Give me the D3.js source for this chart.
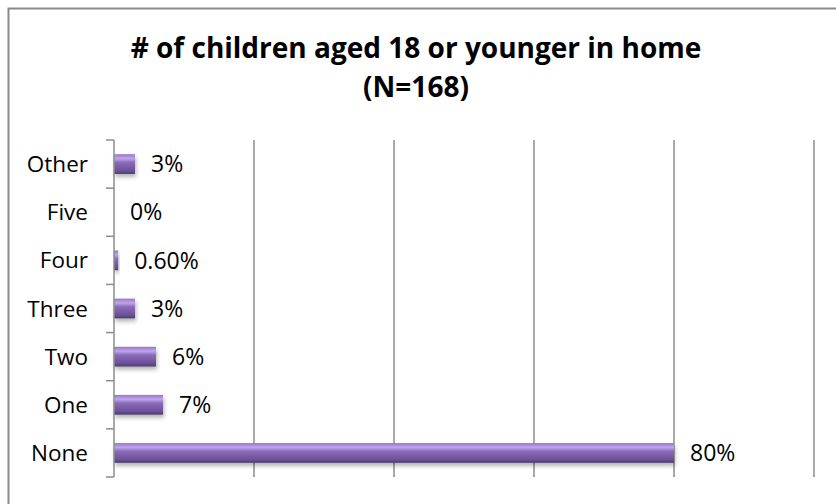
<html>
<head>
<script src="https://d3js.org/d3.v7.min.js"></script>
<style>
  body { margin: 0; background: #fff; }
  text { font-family: "Open Sans", Lato, sans-serif; fill: #000; }
</style>
</head>
<body>
<div id="chart"></div>
<script>
  // chart data
  const categories = ["Other", "Five", "Four", "Three", "Two", "One", "None"];
  const shares = [0.03, 0, 0.006, 0.03, 0.06, 0.07, 0.80];
  const valueLabels = ["3%", "0%", "0.60%", "3%", "6%", "7%", "80%"];
  const gridTicks = [0.2, 0.4, 0.6, 0.8, 1.0];
  const titleLines = ["# of children aged 18 or younger in home", "(N=168)"];

  const w = 836, h = 504;
  const plotLeft = 114, plotRight = 814, plotTop = 140, plotBottom = 477;

  const svg = d3.select("#chart").append("svg")
    .attr("width", w).attr("height", h);

  const defs = svg.append("defs");
  const grad = defs.append("linearGradient")
    .attr("id", "barGrad").attr("x1", 0).attr("y1", 0).attr("x2", 0).attr("y2", 1);
  grad.append("stop").attr("offset", "0%").attr("stop-color", "#9478c4");
  grad.append("stop").attr("offset", "22%").attr("stop-color", "#c0a4ec");
  grad.append("stop").attr("offset", "42%").attr("stop-color", "#8a6bbb");
  grad.append("stop").attr("offset", "85%").attr("stop-color", "#6a5096");
  grad.append("stop").attr("offset", "100%").attr("stop-color", "#4a386a");

  const shadow = defs.append("filter").attr("id", "shadow")
    .attr("x", "-10%").attr("y", "-30%").attr("width", "130%").attr("height", "190%");
  shadow.append("feDropShadow")
    .attr("dx", 1).attr("dy", 3).attr("stdDeviation", 2)
    .attr("flood-color", "#000").attr("flood-opacity", 0.3);

  // outer frame (runs off the right and bottom edges)
  svg.append("rect")
    .attr("x", 8.5).attr("y", 8.5)
    .attr("width", 900).attr("height", 600)
    .attr("fill", "none").attr("stroke", "#8a8a8a").attr("stroke-width", 2);

  // title
  svg.append("text")
    .attr("x", 416).attr("text-anchor", "middle")
    .style("font-weight", "bold").style("font-size", "28px")
    .selectAll("tspan").data(titleLines).enter().append("tspan")
    .attr("x", 416).attr("y", (d, i) => 58 + i * 39)
    .text(d => d);

  const xScale = d3.scaleLinear().domain([0, 1]).range([plotLeft, plotRight]);
  const yScale = d3.scaleBand().domain(categories).range([plotTop, plotBottom]);
  const bw = yScale.bandwidth();
  const barH = bw * 0.41;

  // gridlines
  svg.append("g").selectAll("line").data(gridTicks).enter().append("line")
    .attr("x1", d => xScale(d)).attr("x2", d => xScale(d))
    .attr("y1", plotTop).attr("y2", plotBottom)
    .attr("stroke", "#8c8c8c").attr("stroke-width", 1.5);

  // bars
  svg.append("g").selectAll("rect").data(categories).enter().append("rect")
    .attr("x", xScale(0))
    .attr("y", d => yScale(d) + (bw - barH) / 2)
    .attr("width", (d, i) => xScale(shares[i]) - xScale(0))
    .attr("height", barH)
    .attr("fill", "url(#barGrad)")
    .attr("filter", "url(#shadow)");

  // category axis
  const boundaries = categories.map(d => yScale(d)).concat([plotBottom]);
  const axis = svg.append("g");
  axis.append("line")
    .attr("x1", plotLeft).attr("x2", plotLeft).attr("y1", plotTop).attr("y2", plotBottom)
    .attr("stroke", "#8c8c8c").attr("stroke-width", 1.5);
  axis.selectAll(".tick").data(boundaries).enter().append("line")
    .attr("x1", plotLeft - 8).attr("x2", plotLeft)
    .attr("y1", d => d).attr("y2", d => d)
    .attr("stroke", "#8c8c8c").attr("stroke-width", 1.5);
  axis.selectAll("text").data(categories).enter().append("text")
    .attr("x", 88).attr("y", d => yScale(d) + bw / 2)
    .attr("dy", "0.36em").attr("text-anchor", "end")
    .style("font-size", "22.5px")
    .text(d => d);

  // value labels
  svg.append("g").selectAll("text").data(categories).enter().append("text")
    .attr("x", (d, i) => xScale(shares[i]) + 16)
    .attr("y", d => yScale(d) + bw / 2)
    .attr("dy", "0.36em")
    .style("font-size", "23px")
    .text((d, i) => valueLabels[i]);
</script>
</body>
</html>
